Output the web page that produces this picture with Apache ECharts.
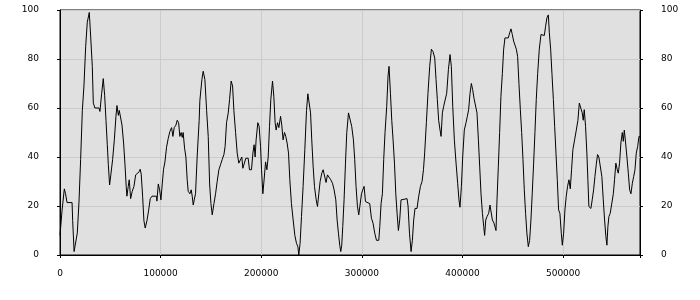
<!DOCTYPE html>
<html>
<head>
<meta charset="utf-8">
<script src="https://cdn.jsdelivr.net/npm/echarts@6/dist/echarts.min.js"></script>
<style>html,body{margin:0;padding:0;background:#fff;}#c{width:700px;height:300px;}</style>
</head>
<body>
<div id="c"></div>
<script>
const xValues = [0,2000,4300,5500,7000,12000,12600,14000,15000,17200,18900,20500,22200,23800,25500,27100,29100,30500,32100,33100,34700,38700,39700,41400,43000,44400,45700,47000,48000,49300,50600,52300,54000,55600,56600,58000,58900,60300,61600,63200,64500,65800,66500,67800,68800,70200,71800,73500,75200,76800,78700,79700,80700,82100,83400,84700,86400,88000,89700,91400,96000,96300,97700,99000,100300,101600,102900,104300,105900,107600,109200,110900,112200,113500,115200,116500,117900,119100,120400,121500,122400,123800,125100,126400,127400,129100,130400,131400,132400,133400,134700,136300,138300,139000,141000,142300,144000,145700,147300,148700,150000,151300,153000,154600,156200,157900,159500,161200,162900,164100,165500,167200,168500,170100,171500,172800,174500,176100,177700,179400,180700,181700,183000,184700,186000,187000,188300,190300,191700,192900,193900,194900,196600,197900,199300,200300,201600,202900,204300,205600,206900,208200,209500,211200,212500,213800,214800,216200,217500,219200,220400,221700,223100,224400,225700,227100,228400,230000,231700,233400,235000,236400,237300,238600,240000,241600,243300,245000,246300,247600,249000,250200,251600,252900,254600,255900,257200,258500,260200,261500,262800,264400,265800,267400,269100,270800,272400,274100,275400,276700,278000,279000,280000,281000,282300,283700,285000,286700,288300,289900,291600,292900,294200,295600,296900,298200,299600,300900,302200,303600,305200,307800,309500,311100,312800,314500,316800,317800,319100,320400,321700,323000,324700,326000,327000,328400,329700,331000,332400,333700,335000,336300,337600,338900,340300,344900,345900,347300,348900,350200,351500,352800,354800,356500,358200,359800,361200,362400,364100,365700,367400,369100,370700,372400,373700,375000,376300,377700,378700,380000,381300,383000,384300,386000,387600,388900,390300,391900,393600,395200,396500,397500,398900,400200,401800,403500,404800,406100,407500,408800,410100,411400,413100,414400,415800,417100,418400,419800,421100,422000,423100,424400,426000,427300,428300,429700,431300,432300,433300,434300,435600,436900,438200,439600,440900,442200,443900,445500,446900,448200,449500,450800,452100,453500,454800,456100,457500,458800,460100,461400,462700,464000,465400,466700,468000,469300,470700,472000,473300,474700,476300,478000,479600,481300,482600,483900,485300,486300,487600,488900,490300,491600,492900,494200,495500,496800,498200,499200,500500,501800,503100,504400,505800,507100,508400,509700,511400,513100,514700,516100,517700,519000,520000,521000,522300,523600,524600,525600,527600,528900,530300,531600,532900,534200,535500,537200,538500,539900,541200,542500,543500,544500,545500,546800,548400,549900,551100,552400,553800,554800,556100,557400,558800,559800,560800,562100,563400,564800,566100,567400,568800,570100,571400,572700,574100,575400,576400];
const yValues = [8,18,27,25,21.4,21.4,14,1.4,1.4,9,22,39,59,69,85,95,99,89,77,62,60,60,58.6,66,72,65,55,45,37,28.6,33,39,47,56.6,61,57,59,58.6,53,45.7,37.5,28,24,28,30.7,23,26,28,32.7,33.4,34,35,33,24,14,11,14,18,23,24,24,22,29,26.6,22.5,29,35,38,44,47.7,50.4,52,48.4,52,53,55,54,48.4,50,48,50,43.6,40,30.7,26,25,26.6,24,20.4,22.5,25,40,55,63,71.6,75,71.6,59,48.4,29,21,16.4,21,25,30,34.8,36.8,39,41,44.3,54,58,63.4,71,69,59,50,41.6,37.5,36.8,40,35.4,34.8,39.5,40,39.5,34.8,34.8,41.6,45,40,47,54,52.5,44.3,34.8,25,31,38,34.8,40,52.5,63.4,71,64.8,54,51,54,52,56.6,53,47,50,48.4,45.7,41.6,30.7,21,14.3,8,4.8,3.4,0,4.8,15.7,28,43,59,65.8,65.4,58,47,36,28,22.5,19.8,25,30,33.4,34.8,34,29.6,32.7,32,30.7,29.3,26.6,22.5,14.3,8.9,4,1.4,4,11.6,22.5,37.5,50,58,58,52.5,47,38.9,28,19.8,16.4,16.4,25,26.6,28,21.8,21,21,15,13,8.9,6,6,11.6,21,25,39,50,60.7,73,77,66,55,47,37.5,25,17,10,14.3,22.5,23,23,20,8.9,1.4,6,14.3,19,19,24,28,30,34.8,41.6,54,66,77,84,83,80.4,71.6,63.4,55,51,48.4,58,60.7,60,66,75.7,81.8,77,60.7,47,37.5,29.3,22.5,19.5,28,40,51,54,56.6,59.3,66,70,67.5,64,63.4,58,47,36,25,17,11.6,8,14.3,15.7,17,20.4,21,14.3,13,13,10,22.5,36,50,64.8,74,84,88.6,89.3,88.6,90.7,92.3,90,87.3,87.3,84,81,70,59.3,50,39,26.6,17,8.9,3.4,6,14.3,25,37.5,50,63.4,74,84,90,89.6,89.6,93.4,96.8,98,90.7,84,74,63.4,52.5,41.6,30.7,18.4,17,8.9,4,8.9,18.4,24,28,30.7,27,34.8,43,47,51,55,62,62,58,55,59.3,52.5,41.6,30.7,19.8,19,22.5,26.6,32,36.8,41,40,40,32,22.5,14.3,7.5,4,11.6,15.7,17,17,25,30.7,37.5,34.8,33.4,37.5,45.7,50,46.4,51,45.7,40,33.4,26.6,25,29.3,32,34.8,41.6,44.3,48.4,48.4];
const xTickLabels = ['0','100000','200000','300000','400000','500000'];
const yTicks = [0,20,40,60,80,100];

const points = xValues.map((x, i) => [x, yValues[i]]);
const labelFont = { fontFamily: 'DejaVu Sans', fontSize: 9, color: '#000' };

const chart = echarts.init(document.getElementById('c'), null, { renderer: 'canvas' });
chart.setOption({
  animation: false,
  backgroundColor: '#fff',
  grid: { left: 60, right: 60, top: 10, bottom: 45, show: true, backgroundColor: '#e0e0e0', borderColor: '#000', borderWidth: 1 },
  xAxis: {
    type: 'value', min: 0, max: xValues[xValues.length - 1], interval: 100000,
    axisLine: { show: true, lineStyle: { color: '#000', width: 1 } },
    axisTick: { show: true, length: 3, lineStyle: { color: '#000' } },
    splitLine: { show: true, lineStyle: { color: '#cbcbcb', width: 1 } },
    axisLabel: Object.assign({ margin: 14, formatter: v => xTickLabels.indexOf(String(v)) >= 0 ? String(v) : '' }, labelFont)
  },
  yAxis: [
    {
      type: 'value', min: 0, max: 100, interval: 20, position: 'left',
      axisLine: { show: true, lineStyle: { color: '#000', width: 1 } },
      axisTick: { show: true, length: 3, lineStyle: { color: '#000' } },
      splitLine: { show: true, lineStyle: { color: '#cbcbcb', width: 1 } },
      axisLabel: Object.assign({ margin: 21, formatter: v => yTicks.indexOf(v) >= 0 ? String(v) : '' }, labelFont)
    },
    {
      type: 'value', min: 0, max: 100, interval: 20, position: 'right',
      axisLine: { show: true, lineStyle: { color: '#000', width: 1 } },
      axisTick: { show: true, length: 3, lineStyle: { color: '#000' } },
      splitLine: { show: false },
      axisLabel: Object.assign({ margin: 21, formatter: v => yTicks.indexOf(v) >= 0 ? String(v) : '' }, labelFont)
    }
  ],
  series: [{
    type: 'line', data: points, showSymbol: false, symbol: 'none',
    lineStyle: { color: '#000', width: 1 }, silent: true
  }]
});
</script>
</body>
</html>
